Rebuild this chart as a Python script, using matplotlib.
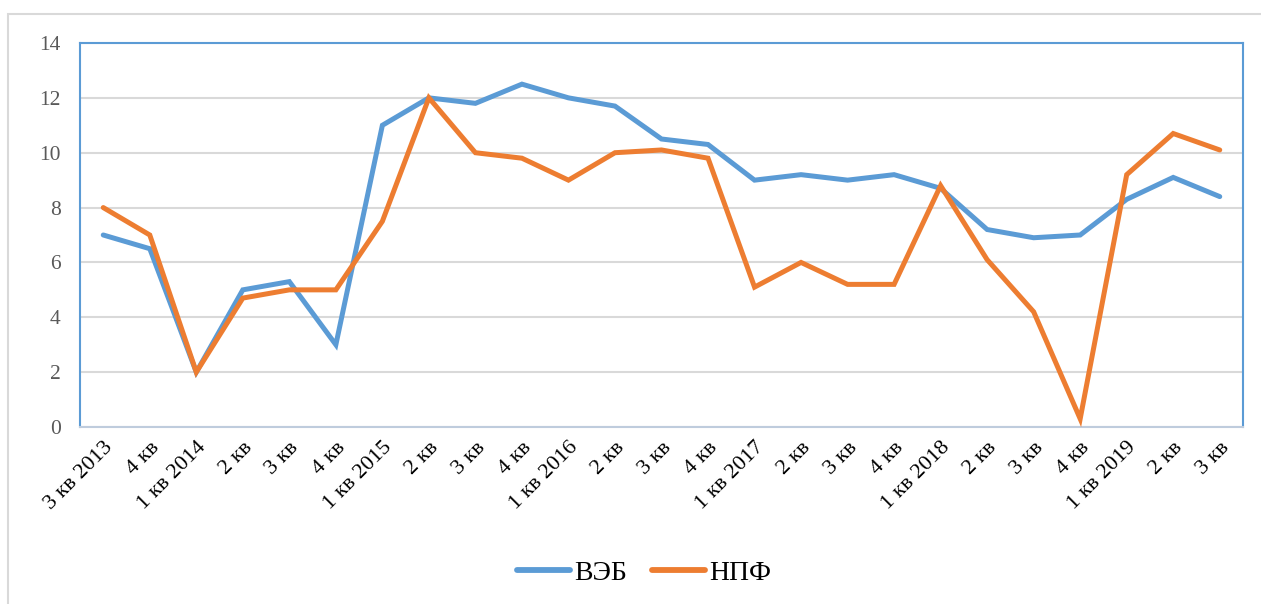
import matplotlib
matplotlib.use("Agg")
import matplotlib.pyplot as plt
from matplotlib.patches import Rectangle

categories = ["3 кв 2013", "4 кв", "1 кв 2014", "2 кв", "3 кв", "4 кв",
              "1 кв 2015", "2 кв", "3 кв", "4 кв", "1 кв 2016", "2 кв", "3 кв", "4 кв",
              "1 кв 2017", "2 кв", "3 кв", "4 кв", "1 кв 2018", "2 кв", "3 кв", "4 кв",
              "1 кв 2019", "2 кв", "3 кв"]
veb = [7.0, 6.5, 2.0, 5.0, 5.3, 3.0, 11.0, 12.0, 11.8, 12.5, 12.0, 11.7, 10.5, 10.3,
       9.0, 9.2, 9.0, 9.2, 8.7, 7.2, 6.9, 7.0, 8.3, 9.1, 8.4]
npf = [8.0, 7.0, 2.0, 4.7, 5.0, 5.0, 7.5, 12.0, 10.0, 9.8, 9.0, 10.0, 10.1, 9.8,
       5.1, 6.0, 5.2, 5.2, 8.8, 6.1, 4.2, 0.3, 9.2, 10.7, 10.1]
series_names = ["ВЭБ", "НПФ"]
yticks = [0, 2, 4, 6, 8, 10, 12, 14]

W, H = 1261, 604
fig = plt.figure(figsize=(W / 100, H / 100), dpi=100)
plt.rcParams['font.family'] = ['Liberation Serif', 'DejaVu Serif']

# outer chart border
fig.patches.append(Rectangle((8 / W, -0.1), 1.2, (H - 14) / H + 0.1, transform=fig.transFigure,
                             fill=False, edgecolor='#D9D9D9', linewidth=1.5))

left, right, top, bottom = 80, 1243, 43, 427
ax = fig.add_axes([left / W, 1 - bottom / H, (right - left) / W, (bottom - top) / H])

x = list(range(len(categories)))
ax.plot(x, veb, color='#5B9BD5', linewidth=3.6, solid_joinstyle='miter', solid_capstyle='round', label=series_names[0], zorder=3)
ax.plot(x, npf, color='#ED7D31', linewidth=3.6, solid_joinstyle='miter', solid_capstyle='round', label=series_names[1], zorder=3)

ax.set_xlim(-0.5, len(categories) - 0.5)
ax.set_ylim(0, 14)
ax.set_yticks(yticks)
ax.set_yticklabels([str(v) for v in yticks], fontsize=15.5, color='#595959')
ax.set_xticks(x)
ax.set_xticklabels(categories, rotation=45, ha='right', rotation_mode='anchor', fontsize=16, color='black')
ax.tick_params(axis='both', length=0)
ax.tick_params(axis='y', pad=14)
ax.tick_params(axis='x', pad=8)
ax.grid(axis='y', color='#D9D9D9', linewidth=1.5, zorder=0)
ax.set_axisbelow(True)

for s in ['left', 'top', 'right']:
    ax.spines[s].set_color('#5B9BD5')
    ax.spines[s].set_linewidth(1.5)
ax.spines['bottom'].set_color('#BFCCDD')
ax.spines['bottom'].set_linewidth(1.5)

leg = fig.legend(loc='center', bbox_to_anchor=(644 / W, 1 - 573 / H), ncol=2, frameon=False,
                 fontsize=20, handlelength=1.9, handletextpad=0.15, columnspacing=0.9)
for l in leg.get_lines():
    l.set_linewidth(4.2)

fig.savefig('out.png', dpi=100)
